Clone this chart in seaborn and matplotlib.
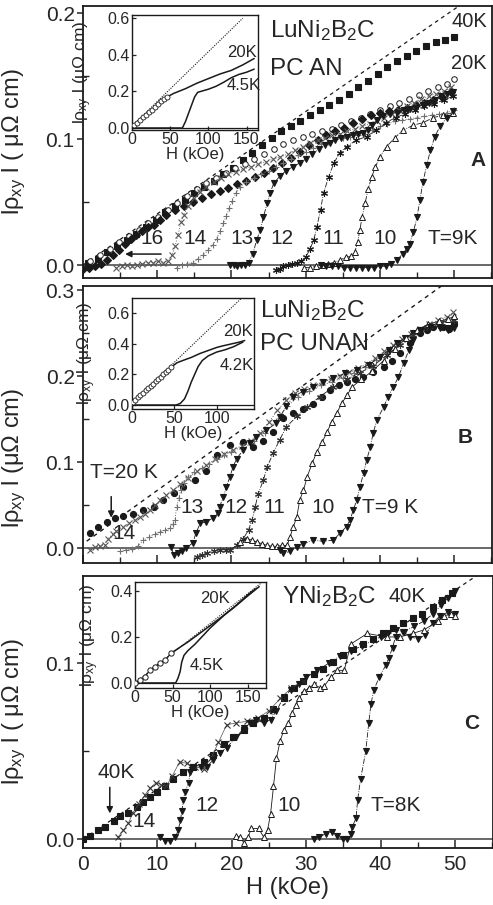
import matplotlib
matplotlib.use("Agg")
import matplotlib.pyplot as plt
from matplotlib.ticker import MultipleLocator, FormatStrFormatter
import seaborn as sns

sns.set_theme(style="ticks")
plt.rcParams['font.family'] = ['Liberation Sans', 'DejaVu Sans']
plt.rcParams['mathtext.fontset'] = 'custom'
plt.rcParams['mathtext.rm'] = 'Liberation Sans'
plt.rcParams['mathtext.it'] = 'Liberation Sans:italic'
plt.rcParams['mathtext.bf'] = 'Liberation Sans:bold'

# ---------------- Panel A data (LuNi2B2C PC AN) ----------------
a_dash_h = [0.0, 50.5]
a_dash_v = [0.0, 0.205]
a40_h = [0.7, 2.0, 3.3, 4.6, 5.9, 7.2, 8.5, 9.8, 11.1, 12.4, 13.7, 15.0, 16.3, 17.6, 18.9, 20.2, 21.5, 22.8,
         24.1, 25.4, 26.7, 28.0, 29.3, 30.6, 31.9, 33.2, 34.5, 35.8, 37.1, 38.4, 39.7, 41.0, 42.3, 43.6, 44.9,
         46.2, 47.5, 48.8, 50.0]
a40_v = [0.002, 0.005, 0.010, 0.015, 0.020, 0.025, 0.030, 0.036, 0.042, 0.047, 0.052, 0.057, 0.062, 0.067,
         0.072, 0.077, 0.083, 0.089, 0.095, 0.101, 0.106, 0.110, 0.114, 0.119, 0.123, 0.127, 0.131, 0.136,
         0.141, 0.146, 0.152, 0.157, 0.162, 0.166, 0.170, 0.174, 0.177, 0.179, 0.181]
a20_h = [1.0, 2.3, 3.6, 4.9, 6.2, 7.5, 8.8, 10.1, 11.4, 12.7, 14.0, 15.3, 16.6, 17.9, 19.2, 20.5, 21.8, 23.1,
         24.4, 25.7, 27.0, 28.3, 29.6, 30.9, 32.2, 33.5, 34.8, 36.1, 37.4, 38.7, 40.0, 41.3, 42.6, 43.9, 45.2,
         46.5, 47.8, 49.1, 50.0]
a20_v = [0.003, 0.008, 0.013, 0.018, 0.023, 0.028, 0.033, 0.038, 0.044, 0.049, 0.055, 0.060, 0.065, 0.069,
         0.073, 0.077, 0.080, 0.084, 0.088, 0.092, 0.096, 0.099, 0.102, 0.104, 0.106, 0.108, 0.111, 0.114,
         0.117, 0.120, 0.123, 0.126, 0.129, 0.132, 0.135, 0.138, 0.141, 0.144, 0.148]
a16_h = [0.0, 0.8, 1.6, 2.4, 3.2, 4.0, 4.8, 5.6, 6.4, 7.2, 8.0, 8.8, 9.6, 10.4, 11.2, 12.4, 13.6, 14.8, 16.0,
         17.2, 18.4, 19.6, 20.8, 22.0, 23.2, 24.4, 25.6, 26.8, 28.0, 29.2, 30.4, 31.6, 32.8, 34.0, 35.2, 36.4,
         37.6, 38.8, 40.0, 41.2, 42.4, 43.6, 44.8, 46.0, 47.2, 48.4, 49.6]
a16_v = [-0.003, -0.002, -0.001, 0.001, 0.004, 0.008, 0.012, 0.017, 0.021, 0.024, 0.027, 0.030, 0.032, 0.036,
         0.040, 0.044, 0.047, 0.050, 0.053, 0.056, 0.059, 0.061, 0.064, 0.067, 0.070, 0.073, 0.077, 0.081,
         0.085, 0.090, 0.095, 0.099, 0.103, 0.106, 0.109, 0.113, 0.116, 0.119, 0.121, 0.122, 0.123, 0.125,
         0.127, 0.129, 0.131, 0.133, 0.137]
a14_h = [4.5, 5.2, 5.9, 6.6, 7.3, 8.0, 8.7, 9.4, 10.1, 10.8, 11.5, 12.0, 12.4, 12.8, 13.2, 13.6, 14.2, 15.0,
         15.8, 16.6, 17.6, 18.6, 19.6, 20.6, 21.6, 22.6, 23.6, 24.6, 25.6, 26.6, 27.6, 28.6, 29.6, 30.6, 31.6,
         32.6, 33.6, 34.6, 35.6, 36.6, 37.6, 38.6, 39.6, 40.6, 41.6, 42.6, 43.6, 44.6, 45.6, 46.6, 47.6, 48.6,
         49.6]
a14_v = [-0.002, -0.001, 0.000, -0.001, 0.000, 0.001, 0.002, 0.002, 0.003, 0.002, 0.003, 0.008, 0.015, 0.024,
         0.034, 0.040, 0.047, 0.053, 0.058, 0.062, 0.066, 0.069, 0.072, 0.074, 0.076, 0.078, 0.080, 0.082,
         0.084, 0.086, 0.088, 0.091, 0.094, 0.097, 0.099, 0.101, 0.103, 0.104, 0.106, 0.108, 0.110, 0.112,
         0.114, 0.117, 0.120, 0.123, 0.126, 0.129, 0.132, 0.134, 0.136, 0.138, 0.141]
a13_h = [12.6, 13.3, 14.0, 14.8, 15.5, 16.2, 16.9, 17.5, 18.0, 18.5, 18.9, 19.3, 19.7, 20.1, 20.6, 21.2, 22.0,
         23.0, 24.0, 25.0, 26.0, 27.0, 28.0, 29.0, 30.0, 31.0, 32.0, 33.0, 34.0, 35.0, 36.0, 37.0, 38.0, 39.0,
         40.0, 41.0, 42.0, 43.0, 44.0, 45.0, 46.0, 47.0, 48.0, 49.0, 50.0]
a13_v = [-0.002, 0.000, 0.001, 0.002, 0.005, 0.008, 0.012, 0.016, 0.021, 0.027, 0.033, 0.039, 0.045, 0.051,
         0.057, 0.062, 0.066, 0.069, 0.072, 0.075, 0.078, 0.081, 0.084, 0.087, 0.090, 0.093, 0.096, 0.098,
         0.100, 0.101, 0.102, 0.103, 0.104, 0.107, 0.110, 0.112, 0.114, 0.115, 0.116, 0.117, 0.118, 0.119,
         0.120, 0.121, 0.123]
a12_h = [19.8, 20.3, 20.8, 21.3, 21.8, 22.3, 22.9, 23.4, 23.9, 24.3, 24.8, 25.2, 25.7, 26.6, 27.4, 28.3, 29.2,
         30.0, 30.9, 31.8, 32.6, 33.3, 34.0, 34.8, 35.6, 36.4, 37.0, 37.7, 38.4, 39.0, 39.6, 40.4, 41.3, 42.3,
         43.2, 44.1, 44.9, 45.8, 46.6, 47.4, 48.2, 49.0, 49.8]
a12_v = [0.000, 0.000, -0.001, 0.000, 0.000, 0.002, 0.009, 0.020, 0.028, 0.038, 0.049, 0.057, 0.065, 0.071,
         0.075, 0.078, 0.081, 0.084, 0.088, 0.092, 0.095, 0.097, 0.099, 0.101, 0.102, 0.103, 0.104, 0.105,
         0.107, 0.111, 0.115, 0.118, 0.120, 0.121, 0.123, 0.124, 0.125, 0.127, 0.129, 0.131, 0.134, 0.136,
         0.137]
a11_h = [26.0, 26.5, 27.0, 27.6, 28.2, 28.8, 29.4, 30.0, 30.6, 31.1, 31.5, 32.0, 32.4, 33.1, 33.8, 34.6, 35.5,
         36.8, 38.2, 39.5, 40.8, 42.1, 43.4, 44.7, 46.0, 47.3, 48.6, 49.9]
a11_v = [-0.004, -0.003, -0.001, 0.000, 0.001, 0.002, 0.003, 0.006, 0.013, 0.020, 0.030, 0.044, 0.057, 0.070,
         0.081, 0.089, 0.094, 0.099, 0.102, 0.107, 0.113, 0.117, 0.120, 0.123, 0.126, 0.128, 0.131, 0.134]
a10_h = [29.8, 30.6, 31.4, 32.2, 33.0, 33.8, 34.6, 35.4, 36.1, 36.6, 37.0, 37.3, 37.6, 38.0, 38.4, 38.9, 39.4,
         40.0, 40.9, 42.0, 43.1, 44.5, 45.8, 47.2, 48.5, 49.9]
a10_v = [-0.002, -0.002, -0.001, 0.000, 0.001, 0.002, 0.004, 0.006, 0.007, 0.010, 0.018, 0.028, 0.038, 0.049,
         0.060, 0.070, 0.078, 0.086, 0.094, 0.101, 0.107, 0.111, 0.113, 0.117, 0.119, 0.121]
a9_h = [32.0, 32.8, 33.6, 34.4, 35.2, 36.0, 36.8, 37.6, 38.4, 39.2, 40.0, 40.8, 41.5, 42.3, 43.1, 43.6, 44.0,
        44.5, 45.0, 45.4, 45.8, 46.3, 46.8, 47.4, 48.1, 49.0, 49.9]
a9_v = [0.000, -0.001, -0.001, -0.001, -0.002, -0.002, -0.002, -0.002, -0.002, -0.002, -0.001, -0.001, 0.001,
        0.004, 0.009, 0.013, 0.017, 0.026, 0.038, 0.052, 0.066, 0.079, 0.091, 0.102, 0.110, 0.117, 0.122]

# inset A
ia_dot_h = [0, 145]
ia_dot_v = [0.01, 0.60]
ia20c_h = [2, 6, 10, 14, 18, 22, 26, 30, 34, 38, 42, 46]
ia20c_v = [0.015, 0.030, 0.045, 0.058, 0.072, 0.087, 0.100, 0.115, 0.130, 0.145, 0.158, 0.170]
ia20_h = [46, 55, 70, 85, 100, 115, 130, 145, 160]
ia20_v = [0.170, 0.190, 0.215, 0.245, 0.270, 0.295, 0.315, 0.345, 0.380]
ia45_h = [0, 66, 70, 74, 78, 82, 86, 90, 100, 110, 120, 130, 140, 150, 160]
ia45_v = [0.0, 0.0, 0.035, 0.080, 0.125, 0.170, 0.195, 0.200, 0.212, 0.228, 0.250, 0.275, 0.293, 0.305, 0.322]

# ---------------- Panel B data (LuNi2B2C PC UNAN) ----------------
b_dash_h = [0.5, 48.5]
b_dash_v = [0.008, 0.306]
b20_h = [0.9, 2.0, 3.2, 4.3, 5.4, 6.8, 8.1, 9.5, 10.8, 12.2, 13.5, 15.1, 16.6, 18.0, 19.8, 21.6, 22.9, 24.3,
         25.6, 27.0, 28.3, 29.7, 31.0, 32.2, 33.3, 34.5, 35.6, 36.7, 37.7, 39.1, 40.5, 41.6, 42.7, 44.1, 45.4,
         46.3, 47.2, 48.5, 49.3, 50.0]
b20_v = [0.018, 0.025, 0.030, 0.035, 0.037, 0.040, 0.044, 0.048, 0.056, 0.064, 0.071, 0.079, 0.090, 0.108,
         0.120, 0.123, 0.117, 0.124, 0.135, 0.151, 0.157, 0.162, 0.168, 0.176, 0.184, 0.189, 0.193, 0.196,
         0.199, 0.205, 0.211, 0.218, 0.227, 0.238, 0.250, 0.254, 0.257, 0.257, 0.255, 0.261]
b14_h = [0.9, 1.6, 2.3, 2.9, 3.4, 4.0, 4.5, 5.4, 6.2, 7.0, 7.7, 8.4, 9.0, 9.7, 10.4, 11.2, 12.1, 13.1, 14.2,
         15.4, 16.6, 17.8, 19.0, 20.2, 21.4, 22.6, 23.8, 25.0, 26.2, 27.4, 28.6, 29.8, 31.0, 32.2, 33.4, 34.6,
         35.8, 37.0, 38.2, 39.4, 40.6, 41.8, 43.0, 44.2, 45.4, 46.6, 47.8, 49.0, 49.9]
b14_v = [-0.002, 0.001, 0.002, 0.004, 0.011, 0.016, 0.020, 0.025, 0.029, 0.033, 0.036, 0.040, 0.044, 0.050,
         0.056, 0.062, 0.067, 0.075, 0.082, 0.089, 0.096, 0.103, 0.109, 0.114, 0.119, 0.125, 0.134, 0.146,
         0.160, 0.172, 0.180, 0.185, 0.189, 0.193, 0.196, 0.200, 0.205, 0.209, 0.214, 0.221, 0.229, 0.236,
         0.243, 0.249, 0.255, 0.260, 0.265, 0.269, 0.274]
b13_h = [5.0, 5.8, 6.6, 7.4, 8.1, 8.9, 9.7, 10.4, 11.1, 11.7, 12.1, 12.4, 12.6, 12.9, 13.2, 13.6, 14.2, 15.0,
         16.0, 17.0, 18.0, 19.0, 20.0, 21.5, 23.0, 24.5, 26.0, 27.5, 29.0, 30.5, 32.0, 33.5, 35.0, 36.5, 38.0,
         39.5, 41.0, 42.5, 44.0, 45.5, 47.0, 48.5, 50.0]
b13_v = [-0.003, -0.002, -0.001, 0.002, 0.009, 0.013, 0.016, 0.019, 0.021, 0.023, 0.028, 0.033, 0.048, 0.058,
         0.068, 0.076, 0.083, 0.088, 0.093, 0.098, 0.103, 0.108, 0.112, 0.118, 0.125, 0.134, 0.148, 0.165,
         0.176, 0.183, 0.189, 0.193, 0.198, 0.204, 0.211, 0.219, 0.229, 0.238, 0.246, 0.253, 0.259, 0.264,
         0.268]
b12_h = [11.9, 12.2, 12.8, 13.4, 13.9, 14.8, 15.2, 15.8, 16.6, 17.5, 18.2, 18.4, 18.9, 19.3, 19.8, 20.2, 20.7,
         21.6, 22.5, 23.3, 24.7, 26.0, 26.5, 27.4, 28.3, 29.6, 31.0, 32.3, 33.7, 35.3, 36.9, 38.5, 40.0, 41.2,
         42.3, 43.4, 44.5, 45.6, 46.8, 48.0, 49.2, 50.0]
b12_v = [0.001, -0.008, -0.006, -0.004, 0.000, 0.006, 0.017, 0.029, 0.030, 0.035, 0.041, 0.048, 0.059, 0.071,
         0.083, 0.094, 0.104, 0.114, 0.122, 0.129, 0.137, 0.145, 0.152, 0.165, 0.176, 0.182, 0.187, 0.193,
         0.198, 0.203, 0.207, 0.213, 0.222, 0.230, 0.238, 0.244, 0.250, 0.254, 0.257, 0.258, 0.256, 0.259]
b11_h = [15.3, 16.0, 16.7, 17.6, 18.5, 19.2, 19.8, 20.7, 21.6, 22.3, 22.8, 23.2, 23.6, 24.3, 24.8, 25.6, 26.5,
         27.4, 28.8, 30.2, 31.9, 33.7, 35.5, 37.3, 39.1, 40.9, 42.7, 44.5, 46.3, 48.1, 50.0]
b11_v = [-0.010, -0.008, -0.006, -0.004, -0.002, -0.002, -0.002, 0.003, 0.011, 0.021, 0.033, 0.048, 0.063,
         0.079, 0.094, 0.110, 0.126, 0.141, 0.153, 0.164, 0.176, 0.187, 0.196, 0.204, 0.212, 0.224, 0.236,
         0.248, 0.257, 0.262, 0.265]
b10_h = [21.2, 22.1, 22.8, 23.4, 24.1, 24.8, 25.5, 26.1, 26.8, 27.5, 27.9, 28.3, 28.8, 29.2, 29.7, 30.2, 30.9,
         31.5, 32.2, 32.9, 33.5, 34.2, 34.9, 35.6, 36.2, 37.5, 39.0, 40.5, 42.0, 43.5, 45.0, 46.5, 48.0, 49.2,
         50.0]
b10_v = [0.007, 0.011, 0.009, 0.007, 0.005, 0.003, 0.002, 0.002, 0.003, 0.003, 0.013, 0.024, 0.036, 0.056,
         0.067, 0.083, 0.099, 0.112, 0.123, 0.135, 0.147, 0.157, 0.169, 0.178, 0.187, 0.196, 0.206, 0.218,
         0.232, 0.244, 0.253, 0.260, 0.264, 0.266, 0.270]
b9_h = [26.5, 27.0, 27.9, 28.8, 29.7, 31.0, 32.3, 33.7, 34.6, 35.5, 36.0, 36.4, 36.9, 37.3, 37.8, 38.2, 38.7,
        39.1, 39.6, 40.5, 41.1, 41.8, 42.5, 43.2, 43.9, 44.5, 45.4, 46.8, 48.1, 49.2, 50.0]
b9_v = [-0.002, -0.006, -0.004, 0.001, 0.005, 0.009, 0.008, 0.009, 0.017, 0.025, 0.033, 0.044, 0.056, 0.071,
        0.087, 0.102, 0.117, 0.134, 0.149, 0.164, 0.176, 0.187, 0.199, 0.215, 0.230, 0.242, 0.253, 0.257,
        0.256, 0.253, 0.256]

# inset B
ib_dot_h = [0, 130]
ib_dot_v = [0.015, 0.70]
ib20c_h = [1, 4, 7, 10, 13, 16, 19, 22, 25, 28, 31, 34, 37, 40, 43, 46]
ib20c_v = [0.020, 0.035, 0.050, 0.065, 0.080, 0.095, 0.110, 0.125, 0.140, 0.155, 0.170, 0.185, 0.200, 0.215,
           0.230, 0.245]
ib20_h = [46, 53, 60, 70, 80, 90, 100, 107, 115, 127, 133]
ib20_v = [0.245, 0.275, 0.290, 0.310, 0.335, 0.355, 0.375, 0.385, 0.395, 0.410, 0.420]
ib42_h = [0, 52, 57, 62, 66, 70, 74, 78, 83, 90, 100, 110, 120, 131]
ib42_v = [0.0, 0.0, 0.010, 0.040, 0.090, 0.150, 0.200, 0.250, 0.290, 0.320, 0.345, 0.360, 0.380, 0.410]

# ---------------- Panel C data (YNi2B2C) ----------------
c_dash_h = [0.0, 54.0]
c_dash_v = [0.0, 0.153]
c40_h = [0.0, 0.9, 2.0, 3.0, 4.1, 5.0, 6.1, 7.2, 8.1, 9.0, 10.0, 11.0, 12.1, 13.5, 14.8, 16.2, 17.5, 18.9, 20.2,
         21.6, 22.9, 24.3, 25.6, 27.0, 28.3, 29.6, 31.0, 32.3, 33.6, 35.0, 36.3, 37.6, 39.0, 40.3, 41.6, 43.0,
         44.3, 45.6, 47.0, 48.3, 49.6]
c40_v = [0.000, 0.002, 0.005, 0.007, 0.010, 0.013, 0.015, 0.018, 0.021, 0.024, 0.027, 0.030, 0.034, 0.038,
         0.041, 0.044, 0.048, 0.054, 0.058, 0.062, 0.066, 0.069, 0.074, 0.080, 0.086, 0.090, 0.094, 0.097,
         0.101, 0.105, 0.108, 0.111, 0.114, 0.117, 0.120, 0.123, 0.126, 0.128, 0.132, 0.136, 0.140]
c14_h = [4.7, 5.4, 6.1, 6.7, 7.5, 8.3, 9.0, 9.8, 10.5, 11.2, 12.0, 13.0, 14.0, 15.0, 16.2, 17.2, 18.2, 19.3,
         20.5, 22.0, 23.5, 25.0, 26.5, 28.0, 29.5]
c14_v = [0.001, 0.005, 0.009, 0.015, 0.020, 0.025, 0.029, 0.032, 0.031, 0.030, 0.036, 0.044, 0.043, 0.041,
         0.040, 0.046, 0.055, 0.065, 0.066, 0.067, 0.069, 0.073, 0.080, 0.086, 0.090]
c12_h = [10.4, 11.0, 11.7, 12.4, 12.8, 13.1, 13.3, 13.5, 13.7, 14.2, 14.4, 14.8, 15.8, 16.6, 17.5, 18.4, 19.3,
         20.6, 21.6, 22.5, 23.3, 24.3, 25.2, 26.0, 27.0, 28.0, 29.0, 30.0, 31.5, 33.0, 34.5, 36.0, 37.5, 39.0,
         40.0, 41.0, 42.0, 43.0, 44.0, 45.0, 46.0, 47.0, 48.0, 49.0, 50.0]
c12_v = [0.001, -0.001, -0.001, 0.001, 0.005, 0.011, 0.016, 0.022, 0.027, 0.032, 0.038, 0.041, 0.041, 0.041,
         0.045, 0.049, 0.052, 0.058, 0.063, 0.066, 0.068, 0.066, 0.068, 0.073, 0.081, 0.085, 0.088, 0.092,
         0.096, 0.100, 0.104, 0.107, 0.110, 0.113, 0.115, 0.117, 0.119, 0.118, 0.115, 0.114, 0.116, 0.123,
         0.127, 0.129, 0.128]
c10_h = [20.5, 21.1, 21.6, 22.2, 22.6, 23.6, 24.3, 24.8, 25.2, 25.6, 26.0, 26.5, 27.0, 27.6, 28.1, 28.6, 29.0,
         29.7, 30.4, 31.0, 31.9, 32.4, 33.3, 34.2, 35.1, 36.0, 38.2, 40.8, 42.6, 44.3, 45.8, 47.7, 48.5, 49.4,
         50.0]
c10_v = [0.002, 0.001, -0.002, 0.001, 0.006, 0.006, 0.001, 0.005, 0.014, 0.030, 0.046, 0.056, 0.062, 0.066,
         0.072, 0.076, 0.080, 0.084, 0.086, 0.088, 0.086, 0.087, 0.092, 0.096, 0.096, 0.111, 0.117, 0.115,
         0.115, 0.117, 0.119, 0.124, 0.127, 0.128, 0.127]
c8_h = [31.0, 31.7, 32.6, 33.5, 34.2, 34.9, 35.5, 36.0, 36.2, 36.7, 36.9, 37.3, 38.0, 38.4, 38.7, 39.1, 39.8,
        40.7, 41.1, 41.6, 42.0, 43.1, 44.5, 45.8, 47.0, 48.1, 49.0, 50.0]
c8_v = [0.000, 0.001, 0.003, 0.004, 0.002, 0.000, 0.000, 0.003, 0.007, 0.012, 0.022, 0.034, 0.050, 0.066,
        0.077, 0.085, 0.092, 0.099, 0.103, 0.109, 0.115, 0.118, 0.121, 0.124, 0.128, 0.133, 0.137, 0.141]

# inset C
ic_dot_h = [0, 172]
ic_dot_v = [0.0, 0.447]
ic20c_h = [0, 6.6, 13, 20, 26, 33, 40, 48]
ic20c_v = [0.0, 0.013, 0.026, 0.057, 0.070, 0.087, 0.100, 0.130]
ic20_h = [48, 70, 90, 110, 130, 150, 165]
ic20_v = [0.130, 0.178, 0.226, 0.275, 0.325, 0.380, 0.420]
ic45_h = [0, 54, 57, 60, 62, 65, 70, 80, 90, 100, 110, 120, 135, 150, 160]
ic45_v = [0.0, 0.0, 0.020, 0.050, 0.090, 0.120, 0.140, 0.170, 0.205, 0.240, 0.270, 0.300, 0.340, 0.385, 0.410]

# ---------------- drawing ----------------
W, Hh = 493, 905
fig = plt.figure(figsize=(W / 100, Hh / 100), dpi=100)


def box(l, t, r, b):
    return [l / W, (Hh - b) / Hh, (r - l) / W, (b - t) / Hh]


ASTER = (6, 2, 0)
GRAY = '#707070'


def series(ax, h, v, marker, ms, fc='k', ec='k', ls='-', lc='k', lw=0.6, mew=0.8, z=3):
    sns.lineplot(x=h, y=v, ax=ax, marker=marker, markersize=ms, markerfacecolor=fc,
                 markeredgecolor=ec, markeredgewidth=mew, color=lc, linestyle=ls, linewidth=lw,
                 sort=False, estimator=None, errorbar=None, legend=False, zorder=z)


def line(ax, h, v, ls='-', lw=1.0, color='k', z=2):
    sns.lineplot(x=h, y=v, ax=ax, color=color, linestyle=ls, linewidth=lw, sort=False,
                 estimator=None, errorbar=None, legend=False, zorder=z)


def style_main(ax, ylo, yhi, show_x):
    ax.set_xlim(0, 55.1)
    ax.set_ylim(ylo, yhi)
    ax.xaxis.set_major_locator(MultipleLocator(10))
    ax.xaxis.set_minor_locator(MultipleLocator(5))
    ax.yaxis.set_major_locator(MultipleLocator(0.1))
    ax.yaxis.set_minor_locator(MultipleLocator(0.05))
    ax.yaxis.set_major_formatter(FormatStrFormatter('%.1f'))
    ax.tick_params(axis='x', which='major', direction='in', length=6, width=1.1, labelsize=15,
                   labelbottom=show_x, pad=5)
    ax.tick_params(axis='x', which='minor', direction='in', length=4, width=1.0)
    ax.tick_params(axis='y', which='major', direction='out', length=4, width=1.1, labelsize=15, pad=2)
    ax.tick_params(axis='y', which='minor', direction='in', length=4, width=1.0)
    for s in ax.spines.values():
        s.set_linewidth(1.3)
        s.set_color('k')
    ax.axhline(0, color='#404040', lw=1.1, zorder=1)
    ax.set_xlabel('')


def style_inset(ax, xmax, ylo, yhi, xstep=50):
    ax.set_xlim(0, xmax)
    ax.set_ylim(ylo, yhi)
    ax.xaxis.set_major_locator(MultipleLocator(xstep))
    ax.yaxis.set_major_locator(MultipleLocator(0.2))
    ax.yaxis.set_major_formatter(FormatStrFormatter('%.1f'))
    ax.tick_params(axis='both', which='major', direction='in', length=3, width=0.9, labelsize=11.5, pad=1.5)
    for s in ax.spines.values():
        s.set_linewidth(1.0)
        s.set_color('k')
    ax.axhline(0, color='k', lw=0.9, zorder=1)
    ax.set_xlabel('H (kOe)', fontsize=12, labelpad=0)
    ax.set_ylabel('lρ$_{\\mathrm{xy}}$ l (μΩ cm)', fontsize=12.5, labelpad=1)


# ---- Panel A ----
axA = fig.add_axes(box(83, 6, 492, 278))
line(axA, a_dash_h, a_dash_v, ls=(0, (3, 3)), lw=0.9)
series(axA, a40_h, a40_v, 's', 4.5, ls='none')
series(axA, a20_h, a20_v, 'o', 4.0, fc='white', ls='none', mew=0.7)
series(axA, a16_h, a16_v, 'D', 3.8, ls='none')
series(axA, a14_h, a14_v, 'x', 4.2, fc='#555555', ec='#555555', ls=':', lc=GRAY, lw=0.7)
series(axA, a13_h, a13_v, '+', 4.7, fc=GRAY, ec=GRAY, ls=':', lc=GRAY, lw=0.7)
series(axA, a12_h, a12_v, 'v', 4.8, ls='-.', lw=0.6)
series(axA, a11_h, a11_v, ASTER, 5.0, ls='-.', lw=0.6)
series(axA, a10_h, a10_v, '^', 4.7, fc='white', ls='-.', lw=0.6, mew=0.7)
series(axA, a9_h, a9_v, 'v', 5.0, ls='-.', lw=0.6)
style_main(axA, -0.0103, 0.2056, False)
axA.set_ylabel('lρ$_{\\mathrm{xy}}$ l ( μΩ cm)', fontsize=17)
axA.yaxis.set_label_coords(-0.135, 0.5)

axA.text(25.2, 0.181, 'LuNi$_2$B$_2$C', fontsize=17.5, ha='left', va='baseline')
axA.text(25.2, 0.151, 'PC AN', fontsize=17.5, ha='left', va='baseline')
axA.text(49.6, 0.193, '40K', fontsize=14.5, ha='left', va='center')
axA.text(49.6, 0.160, '20K', fontsize=14.5, ha='left', va='center')
axA.text(53.2, 0.083, 'A', fontsize=15, fontweight='bold', ha='center', va='center')
axA.text(7.7, 0.021, '16', fontsize=15, ha='left', va='center')
axA.annotate('', xy=(5.3, 0.0087), xytext=(10.9, 0.0087),
             arrowprops=dict(arrowstyle='-|>', color='k', lw=1.1, mutation_scale=9))
for hx, s in [(13.5, '14'), (19.8, '13'), (25.2, '12'), (32.3, '11'), (39.1, '10'), (46.4, 'T=9K')]:
    axA.text(hx, 0.021, s, fontsize=15, ha='left', va='center')

iA = fig.add_axes(box(132, 15, 258, 130))
line(iA, ia_dot_h, ia_dot_v, ls=(0, (1, 1.2)), lw=0.8)
series(iA, ia20c_h, ia20c_v, 'o', 3.6, fc='white', ls='-', lw=0.8, mew=0.6)
line(iA, ia20_h, ia20_v, lw=1.1)
line(iA, ia45_h, ia45_v, lw=1.1)
style_inset(iA, 165, -0.011, 0.618)
iA.yaxis.set_label_coords(-0.30, 0.5)
iA.text(125, 0.414, '20K', fontsize=12, ha='left', va='center')
iA.text(124, 0.234, '4.5K', fontsize=12, ha='left', va='center')

# ---- Panel B ----
axB = fig.add_axes(box(83, 286, 492, 563))
line(axB, b_dash_h, b_dash_v, ls=(0, (3, 3)), lw=1.0)
series(axB, b20_h, b20_v, 'o', 4.4, ls='none')
series(axB, b14_h, b14_v, 'x', 4.2, fc='#555555', ec='#555555', ls=':', lc=GRAY, lw=0.7)
series(axB, b13_h, b13_v, '+', 4.7, fc=GRAY, ec=GRAY, ls=':', lc=GRAY, lw=0.7)
series(axB, b12_h, b12_v, 'v', 5.0, ls='-.', lw=0.6)
series(axB, b11_h, b11_v, ASTER, 5.0, fc='#333333', ec='#333333', ls='-.', lw=0.6)
series(axB, b10_h, b10_v, '^', 4.7, fc='white', ls='-', lw=0.6, mew=0.7)
series(axB, b9_h, b9_v, 'v', 5.0, ls='-.', lw=0.6)
style_main(axB, -0.0174, 0.3047, False)
axB.set_ylabel('lρ$_{\\mathrm{xy}}$ l (μΩ cm)', fontsize=17)
axB.yaxis.set_label_coords(-0.135, 0.38)

axB.text(23.9, 0.269, 'LuNi$_2$B$_2$C', fontsize=17.5, ha='left', va='baseline')
axB.text(23.9, 0.230, 'PC UNAN', fontsize=17.5, ha='left', va='baseline')
axB.text(51.5, 0.128, 'B', fontsize=15, fontweight='bold', ha='center', va='center')
axB.text(0.9, 0.088, 'T=20 K', fontsize=15, ha='left', va='center')
axB.annotate('', xy=(3.8, 0.032), xytext=(3.8, 0.063),
             arrowprops=dict(arrowstyle='-|>', color='k', lw=1.1, mutation_scale=9))
axB.text(3.9, 0.017, '14', fontsize=15, ha='left', va='center')
for hx, s in [(13.1, '13'), (19.1, '12'), (24.3, '11'), (30.8, '10'), (37.6, 'T=9 K')]:
    axB.text(hx, 0.047, s, fontsize=15, ha='left', va='center')

iB = fig.add_axes(box(132, 298, 254, 409))
line(iB, ib_dot_h, ib_dot_v, ls=(0, (1, 1.2)), lw=0.8)
series(iB, ib20c_h, ib20c_v, 'o', 3.6, fc='white', ls='-', lw=0.8, mew=0.6)
line(iB, ib20_h, ib20_v, lw=1.1)
line(iB, ib42_h, ib42_v, lw=1.1)
style_inset(iB, 144, -0.026, 0.697)
iB.yaxis.set_label_coords(-0.28, 0.5)
iB.text(107, 0.476, '20K', fontsize=12, ha='left', va='center')
iB.text(104, 0.26, '4.2K', fontsize=12, ha='left', va='center')

# ---- Panel C ----
axC = fig.add_axes(box(83, 576, 493, 848))
line(axC, c_dash_h, c_dash_v, ls=(0, (3, 3)), lw=0.9)
series(axC, c40_h, c40_v, 's', 4.5, ls='none')
series(axC, c14_h, c14_v, 'x', 4.4, fc='#333333', ec='#333333', ls='-', lc='#555555', lw=0.5)
series(axC, c12_h, c12_v, 'v', 5.0, ls='-.', lw=0.6)
series(axC, c10_h, c10_v, '^', 4.8, fc='white', ls='-', lw=0.6, mew=0.7)
series(axC, c8_h, c8_v, 'v', 5.0, ls='-.', lw=0.6)
style_main(axC, -0.0051, 0.1497, True)
axC.set_xlabel('H (kOe)', fontsize=17, labelpad=2)
axC.set_ylabel('lρ$_{\\mathrm{xy}}$ l ( μΩ cm)', fontsize=17)
axC.yaxis.set_label_coords(-0.135, 0.5)

axC.text(26.8, 0.134, 'YNi$_2$B$_2$C', fontsize=17.5, ha='left', va='baseline')
axC.text(41.0, 0.138, '40K', fontsize=15, ha='left', va='center')
axC.text(52.2, 0.066, 'C', fontsize=15, fontweight='bold', ha='center', va='center')
axC.text(1.9, 0.038, '40K', fontsize=15, ha='left', va='center')
axC.annotate('', xy=(3.6, 0.0130), xytext=(3.6, 0.031),
             arrowprops=dict(arrowstyle='-|>', color='k', lw=1.1, mutation_scale=9))
axC.text(6.7, 0.0097, '14', fontsize=15, ha='left', va='center')
for hx, s in [(15.1, '12'), (26.1, '10'), (38.7, 'T=8K')]:
    axC.text(hx, 0.0193, s, fontsize=15, ha='left', va='center')

iC = fig.add_axes(box(135, 582, 266, 688))
line(iC, ic_dot_h, ic_dot_v, ls=(0, (1, 1.2)), lw=0.8)
series(iC, ic20c_h, ic20c_v, 'o', 3.8, fc='white', ls='-', lw=0.9, mew=0.7)
line(iC, ic20_h, ic20_v, lw=1.1)
line(iC, ic45_h, ic45_v, lw=1.1)
style_inset(iC, 174, -0.022, 0.44)
iC.yaxis.set_label_coords(-0.26, 0.5)
iC.text(86, 0.37, '20K', fontsize=12, ha='left', va='center')
iC.text(73, 0.078, '4.5K', fontsize=12, ha='left', va='center')

fig.savefig('out.png', dpi=100)
